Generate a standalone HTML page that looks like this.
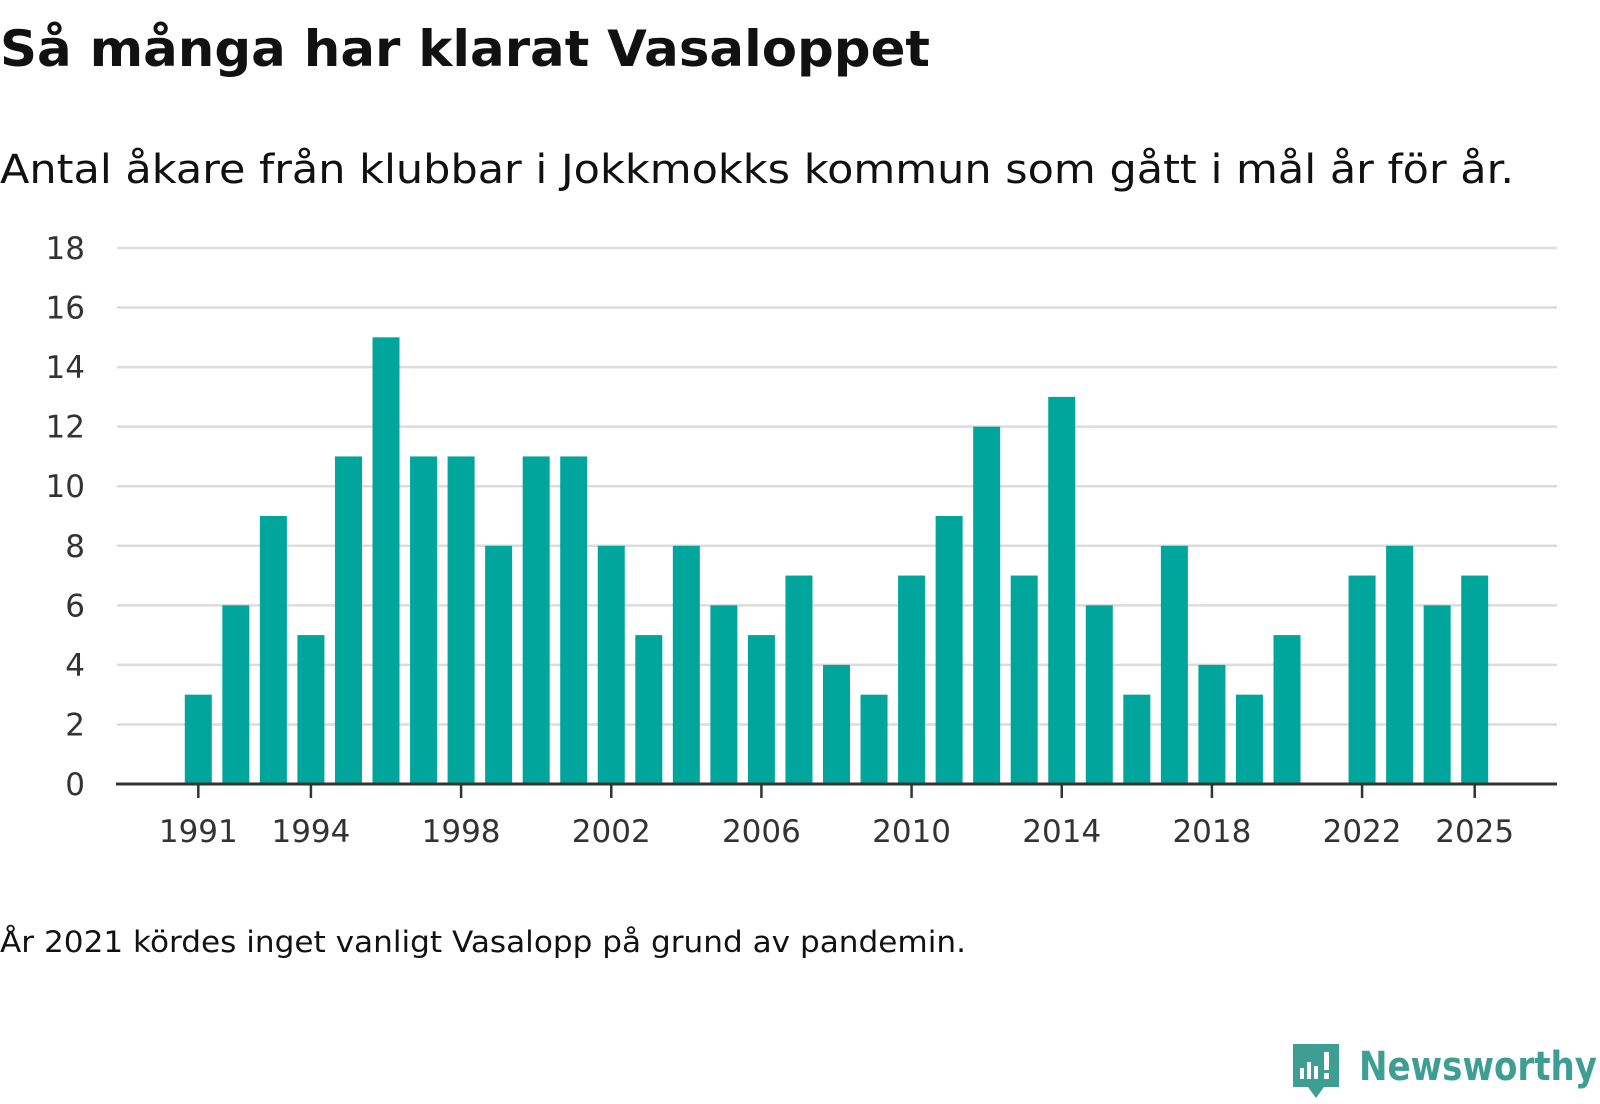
<!DOCTYPE html>
<html><head><meta charset="utf-8"><style>
body{margin:0;background:#fff;width:1600px;height:1100px;overflow:hidden;font-family:"DejaVu Sans","Liberation Sans",sans-serif;color:#1a1a1a}
</style></head><body>
<svg width="1600" height="1100" font-family="DejaVu Sans, Liberation Sans, sans-serif">
<text x="0" y="66" font-size="50" font-weight="bold" fill="#111" textLength="930" lengthAdjust="spacingAndGlyphs">Så många har klarat Vasaloppet</text>
<text x="0" y="183" font-size="40" fill="#111" textLength="1514" lengthAdjust="spacingAndGlyphs">Antal åkare från klubbar i Jokkmokks kommun som gått i mål år för år.</text>
<g id="grid"></g><g id="bars"></g><g id="xaxis"></g>
<text x="0" y="952" font-size="29" fill="#111" textLength="966" lengthAdjust="spacingAndGlyphs">År 2021 kördes inget vanligt Vasalopp på grund av pandemin.</text>
<g>
<path d="M1293 1044h46v43h-15l-8 11l-8-11h-15z" fill="#3f9e94"/>
<rect x="1300" y="1068" width="4" height="11" fill="#fff"/><rect x="1307" y="1062" width="4" height="17" fill="#fff"/><rect x="1314" y="1066" width="4" height="13" fill="#fff"/><rect x="1324" y="1052" width="5" height="18" fill="#fff"/><rect x="1324" y="1073" width="5" height="6" fill="#fff"/>
<text x="1359" y="1080" font-size="40" font-weight="bold" fill="#3f9e94" textLength="238" lengthAdjust="spacingAndGlyphs">Newsworthy</text>
</g>
</svg>
<script>
const years=[1991,1992,1993,1994,1995,1996,1997,1998,1999,2000,2001,2002,2003,2004,2005,2006,2007,2008,2009,2010,2011,2012,2013,2014,2015,2016,2017,2018,2019,2020,2021,2022,2023,2024,2025];
const values=[3,6,9,5,11,15,11,11,8,11,11,8,5,8,6,5,7,4,3,7,9,12,7,13,6,3,8,4,3,5,null,7,8,6,7];
const yTicks=[0,2,4,6,8,10,12,14,16,18];
const xTicks=[1991,1994,1998,2002,2006,2010,2014,2018,2022,2025];
const NS="http://www.w3.org/2000/svg";
const x=v=>198.3+(v-1991)*(1276.4/34);
const y=v=>784-v*(536/18);
function mk(t,a,p){const e=document.createElementNS(NS,t);for(const k in a)e.setAttribute(k,a[k]);p.appendChild(e);return e;}
const g=document.getElementById('grid'),b=document.getElementById('bars'),xa=document.getElementById('xaxis');
yTicks.forEach(t=>{
 if(t>0){const l=mk('line',{x1:117,x2:1557,y1:y(t),y2:y(t),stroke:'#dcdcdc','stroke-width':2.5},g);
 
 }
 const tx=mk('text',{x:85,y:y(t)+11,'font-size':31,'text-anchor':'end',fill:'#333'},g);tx.textContent=t;
 
 
});
years.forEach((yr,i)=>{const v=values[i];if(v==null)return;
 const r=mk('rect',{x:x(yr)-13.5,y:y(v),width:27,height:y(0)-y(v),fill:'#00a59b'},b);
 
 
});
const ax=mk('line',{x1:116,x2:1557,y1:784,y2:784,stroke:'#333','stroke-width':3},xa);


xTicks.forEach(t=>{
 mk('line',{x1:x(t),x2:x(t),y1:784,y2:798,stroke:'#333','stroke-width':2.5},xa);
 const tx=mk('text',{x:x(t),y:842,'font-size':31,'text-anchor':'middle',fill:'#333'},xa);tx.textContent=t;
 
 
});
</script>
</body></html>
